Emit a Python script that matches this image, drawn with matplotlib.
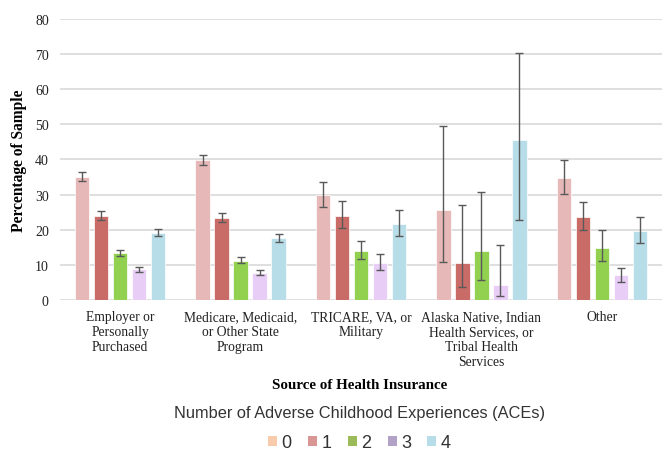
import numpy as np
import matplotlib
matplotlib.use('Agg')
import matplotlib.pyplot as plt
from matplotlib.patches import Patch

# --- Data ---
categories = [
    'Employer or\nPersonally\nPurchased',
    'Medicare, Medicaid,\nor Other State\nProgram',
    'TRICARE, VA, or\nMilitary',
    'Alaska Native, Indian\nHealth Services, or\nTribal Health\nServices',
    'Other',
]
ace_groups = ['0', '1', '2', '3', '4']

# percentage of sample, one list per ACE count (across insurance sources)
pct_ace0 = [35.0, 39.9, 29.9, 25.5, 34.8]
pct_ace1 = [24.0, 23.4, 23.9, 10.6, 23.6]
pct_ace2 = [13.3, 11.2, 13.9, 13.9, 14.9]
pct_ace3 = [8.7, 7.7, 10.4, 4.4, 7.0]
pct_ace4 = [19.2, 17.7, 21.5, 45.4, 19.7]

# confidence interval bounds (low, high)
lo_ace0 = [33.9, 38.5, 26.5, 10.7, 30.2]
hi_ace0 = [36.4, 41.4, 33.7, 49.5, 39.8]
lo_ace1 = [22.8, 22.2, 20.4, 3.6, 20.0]
hi_ace1 = [25.2, 24.8, 28.1, 27.1, 27.9]
lo_ace2 = [12.5, 10.5, 11.6, 5.6, 11.0]
hi_ace2 = [14.1, 12.3, 16.7, 30.6, 19.9]
lo_ace3 = [7.9, 7.0, 8.5, 1.1, 5.1]
hi_ace3 = [9.4, 8.5, 13.0, 15.8, 9.2]
lo_ace4 = [18.2, 16.6, 18.2, 22.7, 16.1]
hi_ace4 = [20.3, 18.9, 25.5, 70.4, 23.6]

values = [pct_ace0, pct_ace1, pct_ace2, pct_ace3, pct_ace4]
lows = [lo_ace0, lo_ace1, lo_ace2, lo_ace3, lo_ace4]
highs = [hi_ace0, hi_ace1, hi_ace2, hi_ace3, hi_ace4]

bar_colors = ['#e6b8b7', '#c96c68', '#92d050', '#e8cdf6', '#b7dee8']
legend_colors = ['#f8cbad', '#d99694', '#9bbb59', '#b3a2c7', '#b7dee8']

plt.rcParams['font.family'] = ['Liberation Serif', 'DejaVu Serif']

fig = plt.figure(figsize=(6.62, 4.52), dpi=100)
ax = fig.add_axes([0.0906, 0.334, 0.9094, 0.622])

x = np.arange(len(categories))
pitch = 0.158
width = 0.12

for i, (vals, lo, hi) in enumerate(zip(values, lows, highs)):
    vals = np.array(vals)
    yerr = np.vstack([vals - np.array(lo), np.array(hi) - vals])
    ax.bar(x + (i - 2) * pitch, vals, width, color=bar_colors[i],
           edgecolor='white', linewidth=0.5, zorder=2)
    ax.errorbar(x + (i - 2) * pitch, vals, yerr=yerr, fmt='none',
                ecolor='#595959', elinewidth=1.0, capsize=3, capthick=1.0,
                zorder=3)

ax.set_xlim(-0.5, len(categories) - 0.5)
ax.set_ylim(0, 80)
ax.set_yticks(np.arange(0, 81, 10))
ax.yaxis.grid(True, color='#d9d9d9', linewidth=1.2, zorder=0)
ax.set_axisbelow(True)
for s in ax.spines.values():
    s.set_visible(False)
ax.tick_params(axis='both', length=0, colors='#222222')
ax.tick_params(axis='y', pad=8, labelsize=10)
ax.set_xticks(x)
ax.set_xticklabels(categories, fontsize=9.8, linespacing=1.2)
ax.tick_params(axis='x', pad=7)

ax.set_ylabel('Percentage of Sample', fontsize=11.2, fontweight='bold', labelpad=6)
fig.text(0.543, 0.148, 'Source of Health Insurance', ha='center', va='center',
         fontsize=10.8, fontweight='bold')

handles = [Patch(facecolor=c, edgecolor='none') for c in legend_colors]
fig.text(0.543, 0.086, 'Number of Adverse Childhood Experiences (ACEs)',
         ha='center', va='center', fontsize=11.8, family='Liberation Sans',
         color='#333333')
leg = fig.legend(handles, ace_groups, loc='center', bbox_to_anchor=(0.543, 0.018),
                 ncol=5, frameon=False, handlelength=0.5, handleheight=0.5,
                 handletextpad=0.25, columnspacing=0.9,
                 prop={'family': 'Liberation Sans', 'size': 13})
for t in leg.get_texts():
    t.set_color('#333333')

fig.savefig('out.png', dpi=100)
